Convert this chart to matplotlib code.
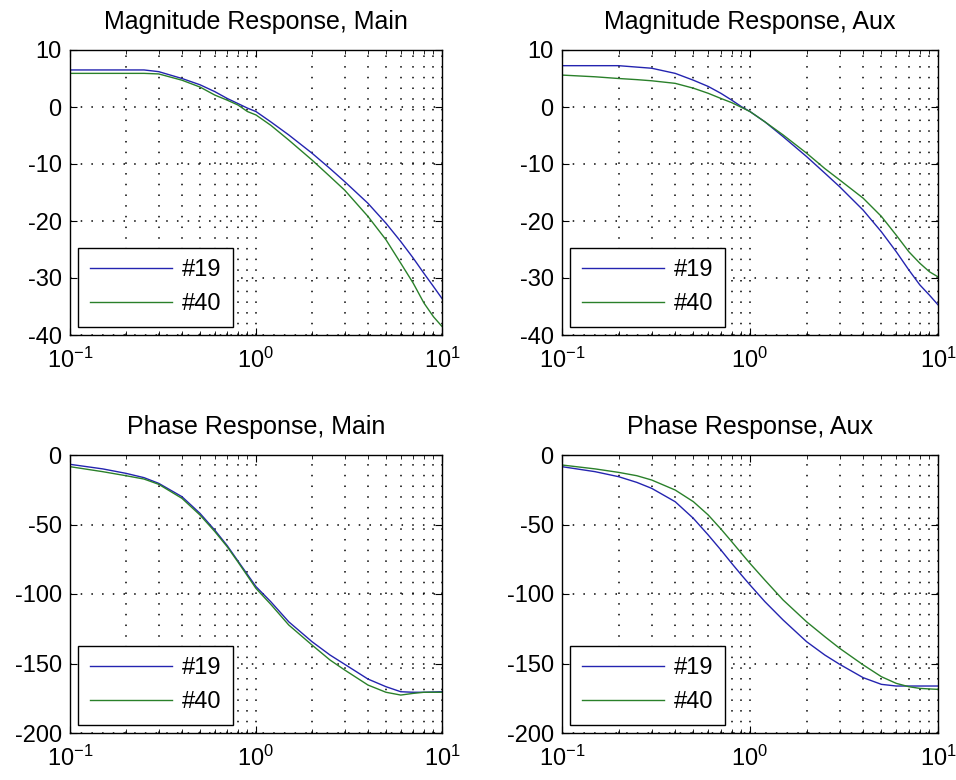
import numpy as np
import matplotlib
matplotlib.use("Agg")
import matplotlib.pyplot as plt
from matplotlib.ticker import LogLocator, LogFormatterMathtext, MultipleLocator, NullFormatter

plt.rcParams['font.family'] = ['Liberation Sans', 'DejaVu Sans']
plt.rcParams['mathtext.fontset'] = 'custom'
plt.rcParams['mathtext.rm'] = 'Liberation Sans'
plt.rcParams['mathtext.it'] = 'Liberation Sans'
plt.rcParams['axes.unicode_minus'] = False

# frequency points (log axis)
freq = [0.1, 0.15, 0.2, 0.25, 0.3, 0.4, 0.5, 0.6, 0.7, 0.8, 0.9, 1.0,
        1.2, 1.5, 2.0, 2.5, 3.0, 4.0, 5.0, 6.0, 7.0, 8.0, 9.0, 10.0]

# magnitude (dB)
mag_main_19 = [6.5, 6.5, 6.5, 6.5, 6.2, 5.0, 3.9, 2.7, 1.5, 0.6, -0.2, -0.8,
               -2.6, -4.9, -8.1, -10.8, -13.1, -16.9, -20.4, -23.6, -26.5, -29.2, -31.5, -33.6]
mag_main_40 = [5.9, 5.9, 5.9, 5.9, 5.8, 4.7, 3.5, 2.1, 1.2, 0.35, -0.8, -1.4,
               -3.2, -5.8, -9.3, -12.2, -14.6, -19.2, -23.3, -27.4, -30.9, -34.4, -36.8, -38.5]
mag_aux_19 = [7.25, 7.25, 7.25, 7.0, 6.8, 5.9, 4.7, 3.6, 2.4, 1.2, 0.06, -0.8,
              -2.6, -5.2, -8.7, -11.6, -14.0, -18.1, -21.9, -25.4, -28.6, -31.2, -33.0, -34.7]
mag_aux_40 = [5.6, 5.3, 5.0, 4.8, 4.6, 4.15, 3.3, 2.4, 1.5, 0.76, -0.06, -0.8,
              -2.6, -4.9, -8.1, -10.8, -12.8, -16.0, -19.2, -22.5, -25.4, -27.4, -28.9, -29.8]

# phase (deg)
ph_main_19 = [-6.7, -10, -13.2, -16.3, -20.4, -30, -42, -54, -65.2, -76.3, -86, -94.7,
              -105.5, -120, -134.3, -143.9, -150.6, -161.2, -166.7, -170.3, -170.7, -170.7, -170.5, -170.3]
ph_main_40 = [-8.4, -12, -14.9, -17.3, -21.1, -31.2, -43.2, -55, -66, -77, -87, -96,
              -107.4, -122.3, -136.7, -147.5, -154.7, -165.5, -170.7, -172.7, -171.5, -170.7, -170.7, -170.7]
ph_aux_19 = [-8.4, -12, -15.6, -19.7, -24, -33.6, -45.6, -57.6, -68.3, -78, -86.3, -93.5,
             -105.5, -118.7, -134.3, -143.9, -150.6, -160.2, -165, -166.2, -166.2, -166.2, -166.2, -166.2]
ph_aux_40 = [-7.2, -10, -12.5, -14.9, -18, -25.2, -33.6, -43.2, -53.2, -62.4, -70.7, -78,
             -90, -104.3, -120, -130.7, -139.1, -151, -159.5, -164.3, -166.7, -167.9, -168.3, -168.6]

labels = ['#19', '#40']
colors = ['#2424b0', '#2a802a']

panels = [
    ("Magnitude Response, Main", mag_main_19, mag_main_40, (-40, 10), 10),
    ("Magnitude Response, Aux", mag_aux_19, mag_aux_40, (-40, 10), 10),
    ("Phase Response, Main", ph_main_19, ph_main_40, (-200, 0), 50),
    ("Phase Response, Aux", ph_aux_19, ph_aux_40, (-200, 0), 50),
]

fig = plt.figure(figsize=(9.56, 7.8), dpi=100)
rects = [
    [70 / 956, 1 - 335 / 780, 372 / 956, 285 / 780],
    [562 / 956, 1 - 335 / 780, 376 / 956, 285 / 780],
    [70 / 956, 1 - 733 / 780, 372 / 956, 278 / 780],
    [562 / 956, 1 - 733 / 780, 376 / 956, 278 / 780],
]

grid_style = (0, (1, 6))
fs = 17

for rect, (title, s19, s40, ylim, ystep) in zip(rects, panels):
    ax = fig.add_axes(rect)
    ax.semilogx(freq, s19, color=colors[0], lw=1.0, label=labels[0])
    ax.semilogx(freq, s40, color=colors[1], lw=1.0, label=labels[1])
    ax.set_xlim(0.1, 10)
    ax.set_ylim(*ylim)
    ax.yaxis.set_major_locator(MultipleLocator(ystep))
    ax.xaxis.set_major_locator(LogLocator(base=10, numticks=5))
    ax.xaxis.set_major_formatter(LogFormatterMathtext())
    ax.xaxis.set_minor_locator(LogLocator(base=10, subs=np.arange(2, 10), numticks=20))
    ax.xaxis.set_minor_formatter(NullFormatter())
    ax.grid(True, which='major', color='black', linestyle=grid_style, lw=1.1)
    ax.grid(True, which='minor', axis='x', color='black', linestyle=grid_style, lw=1.1)
    ax.tick_params(which='both', direction='in', top=True, right=True, labelsize=fs)
    ax.tick_params(axis='y', pad=6)
    ax.tick_params(axis='x', pad=9)
    ax.tick_params(which='major', length=5)
    ax.tick_params(which='minor', length=3)
    for sp in ax.spines.values():
        sp.set_linewidth(1.0)
    ax.set_title(title, fontsize=18, pad=15)
    leg = ax.legend(loc='lower left', fontsize=fs, fancybox=False, framealpha=1,
                    edgecolor='black', handlelength=3.5, handletextpad=0.4,
                    borderaxespad=0.34, labelspacing=0.5, borderpad=0.5)
    leg.get_frame().set_linewidth(1.0)

fig.savefig("out.png", dpi=100)
